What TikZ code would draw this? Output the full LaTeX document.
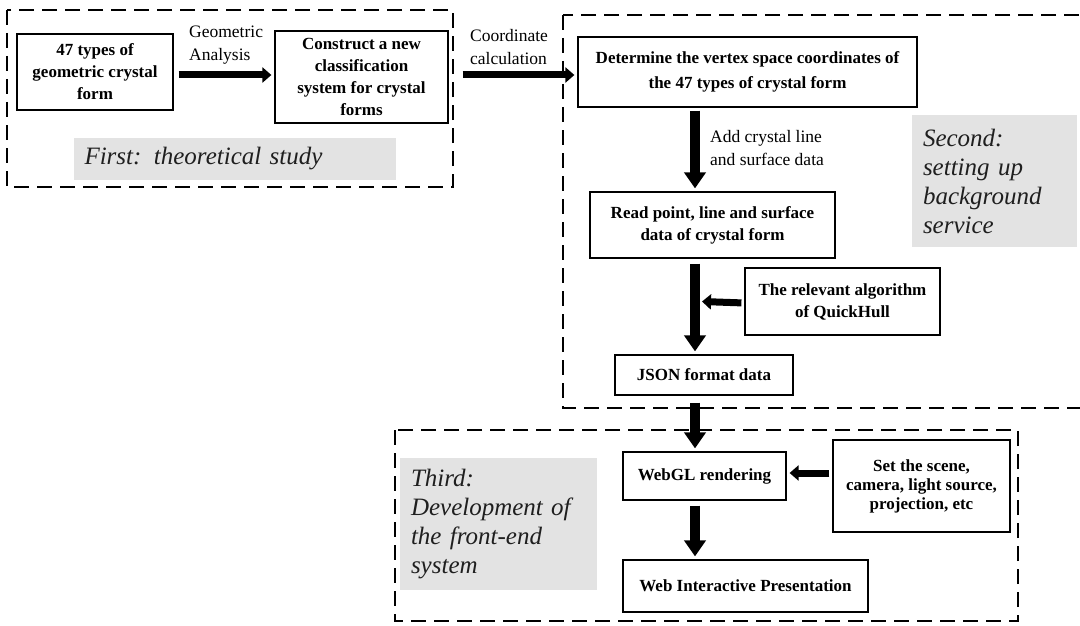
\documentclass[tikz,border=0pt]{standalone}
\usepackage{fontspec}
\setmainfont{Liberation Serif}
\usepackage{tikz}
\usetikzlibrary{arrows.meta}

\begin{document}
\begin{tikzpicture}[x=1pt,y=-1pt,>={Triangle[length=9pt,width=15pt]},
                    shorten >=3pt,shorten <=3pt,
                    box/.style={draw,line width=1.2pt,align=center,inner sep=2pt,
                                font=\bfseries\fontsize{17}{22}\selectfont},
                    note/.style={align=left,inner sep=0pt,font=\fontsize{17.5}{23}\selectfont},
                    stage/.style={fill=black!11,text=black!88,align=left,inner xsep=11pt,
                                  font=\itshape\fontsize{25}{29}\selectfont},
                    stageframe/.style={draw,line width=2pt,dash pattern=on 15pt off 8pt},
                    flow/.style={->,line width=7pt},
                    fat/.style={-{Triangle[length=16pt,width=21pt]},line width=10pt}]
%  \draw[help lines] (0,0) grid (1080,626);
  \useasboundingbox (0,0) rectangle (1080,626);

  % dashed stage frames
  \draw[stageframe] (7,10) rectangle (453,187);
  \draw[stageframe] (563,15) rectangle (1095,408);
  \draw[stageframe] (395,430) rectangle (1018,621);

  \node[stage, text width=300pt, minimum height=42pt] (first)  at (234.5,159)  {First: theoretical study};
  \node[stage, text width=143pt, minimum height=132pt] (second) at (994.5,181) {Second:\\setting up\\background\\service};
  \node[stage, text width=175pt, minimum height=132pt] (third)  at (498.5,524) {Third:\\Development of\\the front-end\\system};

  \node[box, minimum width=156pt, minimum height=76pt] (types) at (95,72)      {47 types of\\geometric crystal\\form};
  \node[box, minimum width=173pt, minimum height=92pt] (cls)   at (361.5,77)   {Construct a new\\classification\\system for crystal\\forms};
  \node[box, minimum width=339pt, minimum height=70pt,
        font=\bfseries\fontsize{17}{25}\selectfont]    (vert)  at (747.5,72)   {Determine the vertex space coordinates of\\the 47 types of crystal form};
  \node[box, minimum width=245pt, minimum height=66pt] (read)  at (712.5,225)  {Read point, line and surface\\data of crystal form};
  \node[box, minimum width=195pt, minimum height=67pt] (hull)  at (842.5,301.5) {The relevant algorithm\\of QuickHull};
  \node[box, minimum width=178pt, minimum height=40pt] (json)  at (704,375)    {JSON format data};
  \node[box, minimum width=163pt, minimum height=48pt] (gl)    at (704.5,476)  {WebGL rendering};
  \node[box, minimum width=177pt, minimum height=92pt,
        font=\bfseries\fontsize{17}{19}\selectfont]    (scene) at (921.5,486)  {Set the scene,\\camera, light source,\\projection, etc};
  \node[box, minimum width=245pt, minimum height=52pt] (web)   at (745.5,586)  {Web Interactive Presentation};

  \node[note, anchor=west] (geo)  at (189,45)  {Geometric\\Analysis};
  \node[note, anchor=west] (calc) at (470,47)  {Coordinate\\calculation};
  \node[note, anchor=west] (add)  at (710,148) {Add crystal line\\and surface data};

  \coordinate (spine) at (695,0);

  \path (types.east |- 0,75) edge[flow, shorten <=5pt] (cls.west |- 0,75)
        (cls.east |- 0,75)   edge[flow, shorten <=14pt] (vert.west |- 0,75)
        (vert.south -| spine) edge[fat] (read.north -| spine)
        (read.south -| spine) edge[fat, shorten <=5pt] (json.north -| spine)
        (hull.west |- 0,303) edge[flow, shorten >=0pt] ([xshift=7pt]hull.west -| spine)
        (json.south -| spine) edge[fat, shorten <=7pt] (gl.north -| spine)
        (scene.west |- 0,473) edge[flow] (gl.east |- 0,473)
        (gl.south -| spine) edge[fat, shorten <=5pt] (web.north -| spine)
;
\end{tikzpicture}
\end{document}
